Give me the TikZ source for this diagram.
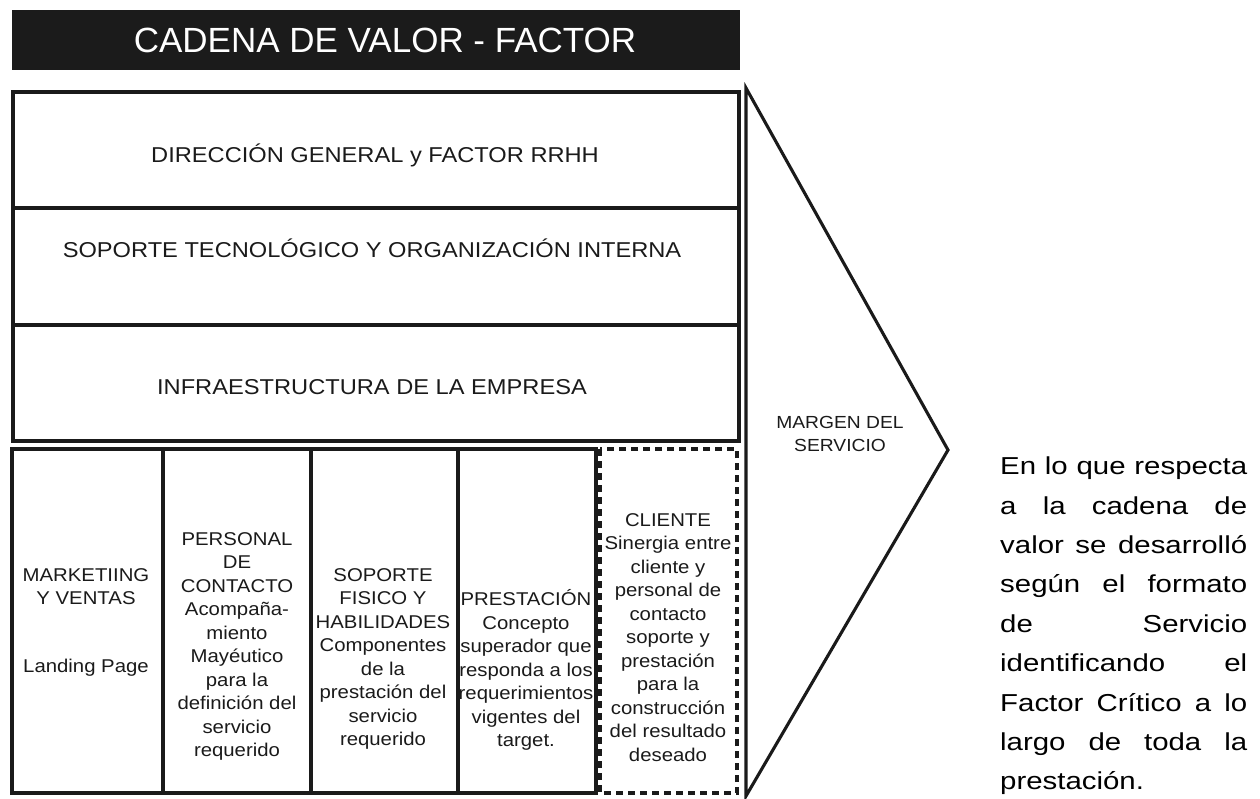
\documentclass[tikz,border=0pt]{standalone}
\usepackage{fontspec}
\setmainfont{Liberation Sans}
\newfontfamily\wf[FakeStretch=1.1]{Liberation Sans}
\newfontfamily\pf[FakeStretch=1.2]{Liberation Sans}
\definecolor{ink}{HTML}{1A1A1A}
\definecolor{bar}{HTML}{1B1B1B}
\begin{document}
\begin{tikzpicture}[x=1pt,y=-1pt,line join=miter,
  frame/.style={draw=ink,line width=3.1pt},
  dashframe/.style={draw=ink,line width=3.1pt,dash pattern=on 7pt off 5pt},
  titletext/.style={font=\fontsize{35}{40}\selectfont,text=white,inner sep=0},
  rowtext/.style={font=\wf\fontsize{21.5}{25}\selectfont,text=ink,inner sep=0},
  coltext/.style={font=\wf\fontsize{18.5}{23.5}\selectfont,text=ink,align=center,inner sep=0},
  margtext/.style={font=\wf\fontsize{17.5}{23}\selectfont,text=ink,align=center,inner sep=0},
  pline/.style={font=\pf\fontsize{24.5}{40}\selectfont,text=black,anchor=base west,inner sep=0}]
\useasboundingbox (0,0) rectangle (1260,798);
% title bar
\fill[bar] (12,10) rectangle (740,70);
\node[titletext] (title) at (385,40) {CADENA DE VALOR - FACTOR};
% support activities
\draw[frame] (13,92) rectangle (739,441);
\draw[frame] (13,208) -- (739,208);
\draw[frame] (13,325) -- (739,325);
\node[rowtext] (dir) at (375,155) {DIRECCIÓN GENERAL y FACTOR RRHH};
\node[rowtext] (tec) at (372,248) {SOPORTE TECNOLÓGICO Y ORGANIZACIÓN INTERNA};
\node[rowtext] (inf) at (372,387) {INFRAESTRUCTURA DE LA EMPRESA};
% primary activities
\draw[frame] (12,449) rectangle (596,793);
\draw[frame] (163,449) -- (163,793);
\draw[frame] (311,449) -- (311,793);
\draw[frame] (458,449) -- (458,793);
\draw[dashframe] (600,449) rectangle (737,793);
\node[coltext] (mkt) at (86,622) {MARKETIING\\Y VENTAS\\[44pt]Landing Page};
\node[coltext] (per) at (237,646.5) {PERSONAL\\DE\\CONTACTO\\Acompaña-\\miento\\Mayéutico\\para la\\definición del\\servicio\\requerido};
\node[coltext] (sop) at (383,659) {SOPORTE\\FISICO Y\\HABILIDADES\\Componentes\\de la\\prestación del\\servicio\\requerido};
\node[coltext] (pre) at (526,670) {PRESTACIÓN\\Concepto\\superador que\\responda a los\\requerimientos\\vigentes del\\target.};
\node[coltext] (cli) at (668,637.5) {CLIENTE\\Sinergia entre\\cliente y\\personal de\\contacto\\soporte y\\prestación\\para la\\construcción\\del resultado\\deseado};
% margin arrow
\draw[frame] (746,88) -- (948,450) -- (746,796) -- cycle;
\node[margtext] (mar) at (840,433.5) {MARGEN DEL\\SERVICIO};
% paragraph
\node[pline] (p1) at (1000,474) {\makebox[247pt][s]{En lo que respecta}};
\node[pline] (p2) at (1000,514) {\makebox[247pt][s]{a la cadena de}};
\node[pline] (p3) at (1000,553) {\makebox[247pt][s]{valor se desarrolló}};
\node[pline] (p4) at (1000,592) {\makebox[247pt][s]{según el formato}};
\node[pline] (p5) at (1000,632) {\makebox[247pt][s]{de Servicio}};
\node[pline] (p6) at (1000,671) {\makebox[247pt][s]{identificando el}};
\node[pline] (p7) at (1000,711) {\makebox[247pt][s]{Factor Crítico a lo}};
\node[pline] (p8) at (1000,750) {\makebox[247pt][s]{largo de toda la}};
\node[pline] (p9) at (1000,789) {\makebox[247pt][l]{prestación.}};
\end{tikzpicture}
\end{document}
